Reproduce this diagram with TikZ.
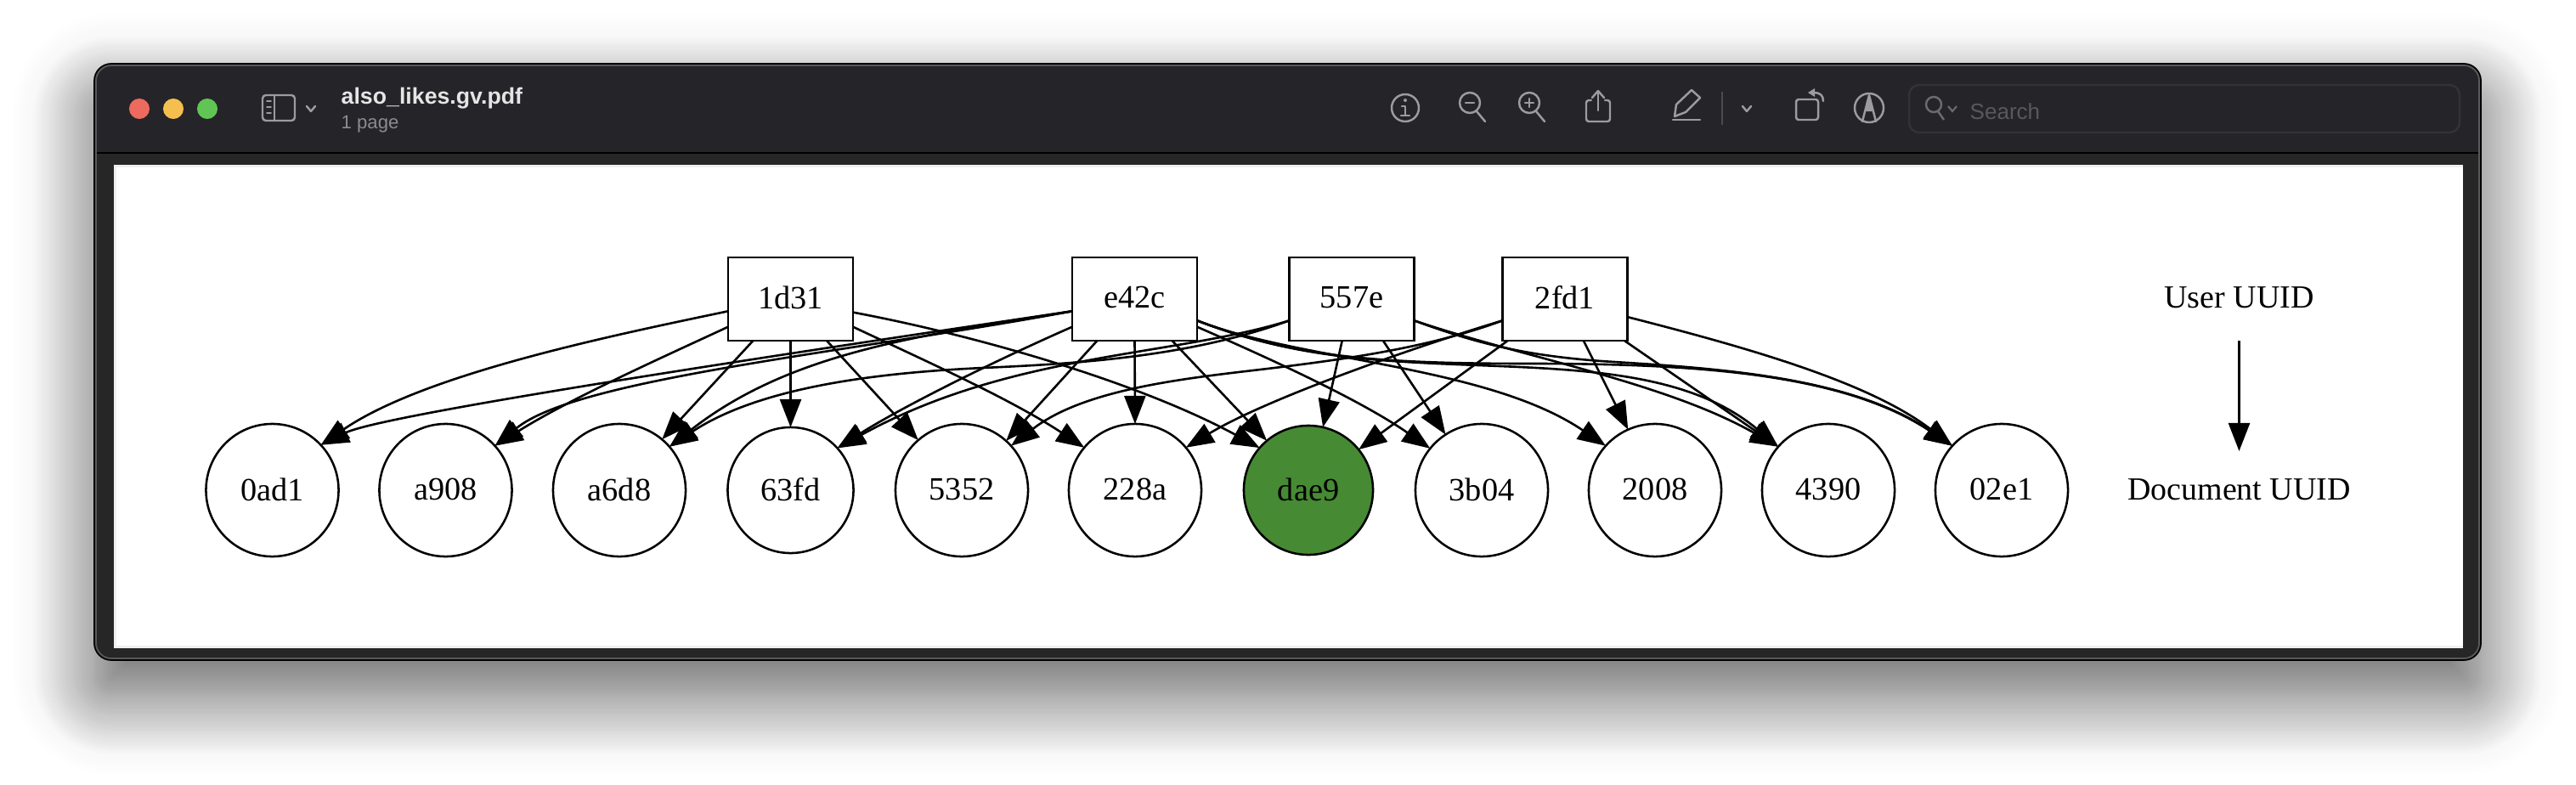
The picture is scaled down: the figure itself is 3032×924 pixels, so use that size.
\documentclass[tikz,border=0pt]{standalone}
\usepackage{fontspec}
\setmainfont{Liberation Serif}
\newfontfamily\uifont{Liberation Sans}
\usetikzlibrary{arrows.meta}
\usetikzlibrary{shadows.blur}

\definecolor{barcolor}{HTML}{252429}
\definecolor{framecolor}{HTML}{262626}
\definecolor{iconcolor}{HTML}{9C9C9E}
\definecolor{leafgreen}{HTML}{468A33}
\definecolor{closered}{HTML}{ED6A5E}
\definecolor{minyellow}{HTML}{F4BF4F}
\definecolor{zoomgreen}{HTML}{61C554}

\tikzset{
  userbox/.style={draw=black, line width=0.8pt, fill=white, minimum width=1.47cm, minimum height=0.98cm, inner sep=0pt, outer sep=0pt, font=\fontsize{10.9}{13}\selectfont},
  docnode/.style={circle, draw=black, line width=0.72pt, fill=white, minimum size=1.56cm, inner sep=0pt, outer sep=0pt, font=\fontsize{10.9}{13}\selectfont},
  legendtext/.style={inner sep=0pt, outer sep=0pt, font=\fontsize{10.8}{13}\selectfont},
  edgeline/.style={draw=black, line width=0.74pt, -{Triangle[length=0.33cm,width=0.25cm]}},
  toolicon/.style={draw=iconcolor, line width=0.7pt, line cap=round, line join=round}
}

\begin{document}
\begin{tikzpicture}[x=0.01cm,y=-0.01cm]
\useasboundingbox (0,0) rectangle (3032,924);

% shadow, wide and faint then narrow and dark
\fill[framecolor, rounded corners=0.2cm, blur shadow={shadow xshift=0cm, shadow yshift=-0.38cm, shadow blur radius=1cm, shadow opacity=20, shadow blur steps=30}] (111,75) rectangle (2920,777);
\fill[framecolor, rounded corners=0.2cm, blur shadow={shadow xshift=0cm, shadow yshift=-0.4cm, shadow blur radius=0.72cm, shadow opacity=50, shadow blur steps=30}] (111,75) rectangle (2920,777);

% window
\fill[barcolor, rounded corners=0.2cm] (111,75) rectangle (2920,200);
\fill[framecolor] (111,181) rectangle (2920,230);
\draw[black, line width=0.5pt] (111,180)--(2920,180);
\draw[black, line width=0.5pt, rounded corners=0.2cm] (111,75) rectangle (2920,777);
\draw[white!35!black, line width=0.5pt, rounded corners=0.18cm] (113,77) rectangle (2918,775);
\fill[white!94!black] (134,194) rectangle (2899,763);
\fill[white] (137,197) rectangle (2899,760);

% traffic lights
\fill[closered] (164,128) circle (0.12cm);
\fill[minyellow] (204,128) circle (0.12cm);
\fill[zoomgreen] (244,128) circle (0.12cm);

% sidebar button
\draw[toolicon, rounded corners=0.04cm] (309,112) rectangle (347,142);
\draw[toolicon] (323,112)--(323,142);
\draw[toolicon, line width=0.5pt] (314,119)--(319,119);
\draw[toolicon, line width=0.5pt] (314,126)--(319,126);
\draw[toolicon, line width=0.5pt] (314,133)--(319,133);
\draw[toolicon] (361,125)--(366,131)--(371,125);

\node (titletext) at (401,116) [anchor=west, inner sep=0pt, text=white!90!black, font=\uifont\bfseries\fontsize{7.6}{9}\selectfont] {also\_likes.gv.pdf};
\node (pagetext) at (401,146) [anchor=west, inner sep=0pt, text=white!55!black, font=\uifont\fontsize{6.3}{8}\selectfont] {1 page};

% toolbar
\draw[toolicon] (1654,127) circle (0.16cm);
\fill[iconcolor] (1654,118) circle (0.02cm);
\draw[toolicon] (1650,125)--(1654,125)--(1654,136);
\draw[toolicon] (1649,136)--(1659,136);

\draw[toolicon] (1730,121) circle (0.12cm);
\draw[toolicon] (1725,121)--(1735,121);
\draw[toolicon] (1738,131)--(1748,143);

\draw[toolicon] (1800,121) circle (0.12cm);
\draw[toolicon] (1795,121)--(1805,121);
\draw[toolicon] (1800,116)--(1800,126);
\draw[toolicon] (1808,131)--(1818,143);

\draw[toolicon, rounded corners=0.03cm] (1873,118)--(1867,118)--(1867,143)--(1895,143)--(1895,118)--(1889,118);
\draw[toolicon] (1881,130)--(1881,108);
\draw[toolicon] (1874,115)--(1881,107)--(1888,115);

\draw[toolicon] (1971,137)--(1973,123)--(1991,106)--(2001,115)--(1984,132)--cycle;
\draw[toolicon] (1969,141)--(2001,141);
\draw[white!30!black, line width=0.5pt] (2027,108)--(2027,147);
\draw[toolicon] (2051,125)--(2056,131)--(2061,125);

\draw[toolicon, rounded corners=0.03cm] (2114,117) rectangle (2140,141);
\draw[toolicon] (2146,119) .. controls (2146,112) and (2142,109) .. (2135,109);
\fill[iconcolor] (2128,109)--(2136,104)--(2136,114)--cycle;

\draw[toolicon] (2200,127) circle (0.17cm);
\draw[toolicon] (2192,143)--(2200,112)--(2208,143);
\fill[iconcolor] (2195,131)--(2200,112)--(2205,131)--cycle;

\draw[white!20!black, line width=0.7pt, rounded corners=0.12cm] (2247,100) rectangle (2895,156);
\draw[white!42!black, line width=0.7pt] (2276,123) circle (0.09cm);
\draw[white!42!black, line width=0.7pt] (2281,131)--(2288,141);
\draw[white!42!black, line width=0.6pt] (2293,125)--(2298,131)--(2303,125);
\node (searchtext) at (2318,131) [anchor=west, inner sep=0pt, text=white!35!black, font=\uifont\fontsize{7.4}{9}\selectfont] {Search};

% users
\node (u1d31) at (930.5,352) [userbox] {\raisebox{1.2pt}{1d31}};
\node (ue42c) at (1335.5,352) [userbox] {\raisebox{1.2pt}{e42c}};
\node (u557e) at (1591,352) [userbox] {\raisebox{1.2pt}{557e}};
\node (u2fd1) at (1842,352) [userbox] {\raisebox{1.2pt}{2fd1}};

% documents
\node (d0ad1) at (320.5,577) [docnode] {\raisebox{0.6pt}{0ad1}};
\node (da908) at (524.5,577) [docnode] {\raisebox{0.6pt}{a908}};
\node (da6d8) at (729,577) [docnode] {\raisebox{0.6pt}{a6d8}};
\node (d63fd) at (930.5,577) [docnode, minimum size=1.48cm] {\raisebox{0.6pt}{63fd}};
\node (d5352) at (1132,577) [docnode] {\raisebox{0.6pt}{5352}};
\node (d228a) at (1336,577) [docnode] {\raisebox{0.6pt}{228a}};
\node (ddae9) at (1540,577) [docnode, minimum size=1.52cm, fill=leafgreen] {\raisebox{0.6pt}{dae9}};
\node (d3b04) at (1744,577) [docnode] {\raisebox{0.6pt}{3b04}};
\node (d2008) at (1948,577) [docnode] {\raisebox{0.6pt}{2008}};
\node (d4390) at (2152,577) [docnode] {\raisebox{0.6pt}{4390}};
\node (d02e1) at (2356,577) [docnode] {\raisebox{0.6pt}{02e1}};

% legend
\node (userlabel) at (2635.5,352) [legendtext, minimum height=0.98cm] {\raisebox{1.2pt}{User UUID}};
\node (doclabel) at (2635.5,577) [legendtext, minimum height=0.92cm] {\raisebox{0.6pt}{Document UUID}};
\draw[edgeline] (userlabel) -- (doclabel);

% 1d31 edges
\draw[edgeline] (u1d31.191) .. controls (720,395) and (500,440) .. (d0ad1.43);
\draw[edgeline] (u1d31.204) .. controls (770,425) and (670,470) .. (da908.42);
\draw[edgeline] (u1d31.228) -- (da6d8.50);
\draw[edgeline] (u1d31.south) -- (d63fd.north);
\draw[edgeline] (u1d31.311) -- (d5352.131);
\draw[edgeline] (u1d31.336) .. controls (1090,425) and (1190,470) .. (d228a.140);
\draw[edgeline] (u1d31.348) .. controls (1150,395) and (1340,450) .. (ddae9.139);

% e42c edges
\draw[edgeline] (ue42c.191) .. controls (900,420) and (450,488) .. (d0ad1.43);
\draw[edgeline] (ue42c.191) .. controls (1000,415) and (680,445) .. (da908.42);
\draw[edgeline] (ue42c.191) .. controls (1080,395) and (930,415) .. (da6d8.41);
\draw[edgeline] (ue42c.204) .. controls (1170,425) and (1060,480) .. (d63fd.42);
\draw[edgeline] (ue42c.228) -- (d5352.48);
\draw[edgeline] (ue42c.south) -- (d228a.north);
\draw[edgeline] (ue42c.312) -- (ddae9.130);
\draw[edgeline] (ue42c.336) .. controls (1490,420) and (1600,470) .. (d3b04.141);
\draw[edgeline] (ue42c.341) .. controls (1530,425) and (1750,430) .. (d2008.138);
\draw[edgeline] (ue42c.341) .. controls (1520,420) and (1610,425) .. (1740,430) .. controls (1870,435) and (1990,440) .. (d4390.139);
\draw[edgeline] (ue42c.341) .. controls (1520,420) and (1620,428) .. (1800,428) .. controls (2000,428) and (2170,440) .. (d02e1.138);

% 557e edges
\draw[edgeline] (u557e.199) .. controls (1400,420) and (1270,428) .. (1157,433) .. controls (1050,438) and (900,452) .. (da6d8.41);
\draw[edgeline] (u557e.199) .. controls (1380,420) and (1190,415) .. (d63fd.42);
\draw[edgeline] (u557e.257) -- (ddae9.77);
\draw[edgeline] (u557e.307) -- (d3b04.123);
\draw[edgeline] (u557e.341) .. controls (1790,420) and (1960,450) .. (d4390.139);
\draw[edgeline] (u557e.341) .. controls (1740,405) and (1800,420) .. (1900,426) .. controls (2030,434) and (2180,445) .. (d02e1.138);

% 2fd1 edges
\draw[edgeline] (u2fd1.199) .. controls (1680,410) and (1580,423) .. (1500,433) .. controls (1410,444) and (1280,455) .. (d5352.42);
\draw[edgeline] (u2fd1.199) .. controls (1660,410) and (1490,470) .. (d228a.40);
\draw[edgeline] (u2fd1.216) -- (ddae9.39);
\draw[edgeline] (u2fd1.294) -- (d2008.114);
\draw[edgeline] (u2fd1.325) -- (d4390.139);
\draw[edgeline] (u2fd1.344) .. controls (2060,410) and (2200,450) .. (d02e1.138);

\end{tikzpicture}
\end{document}
